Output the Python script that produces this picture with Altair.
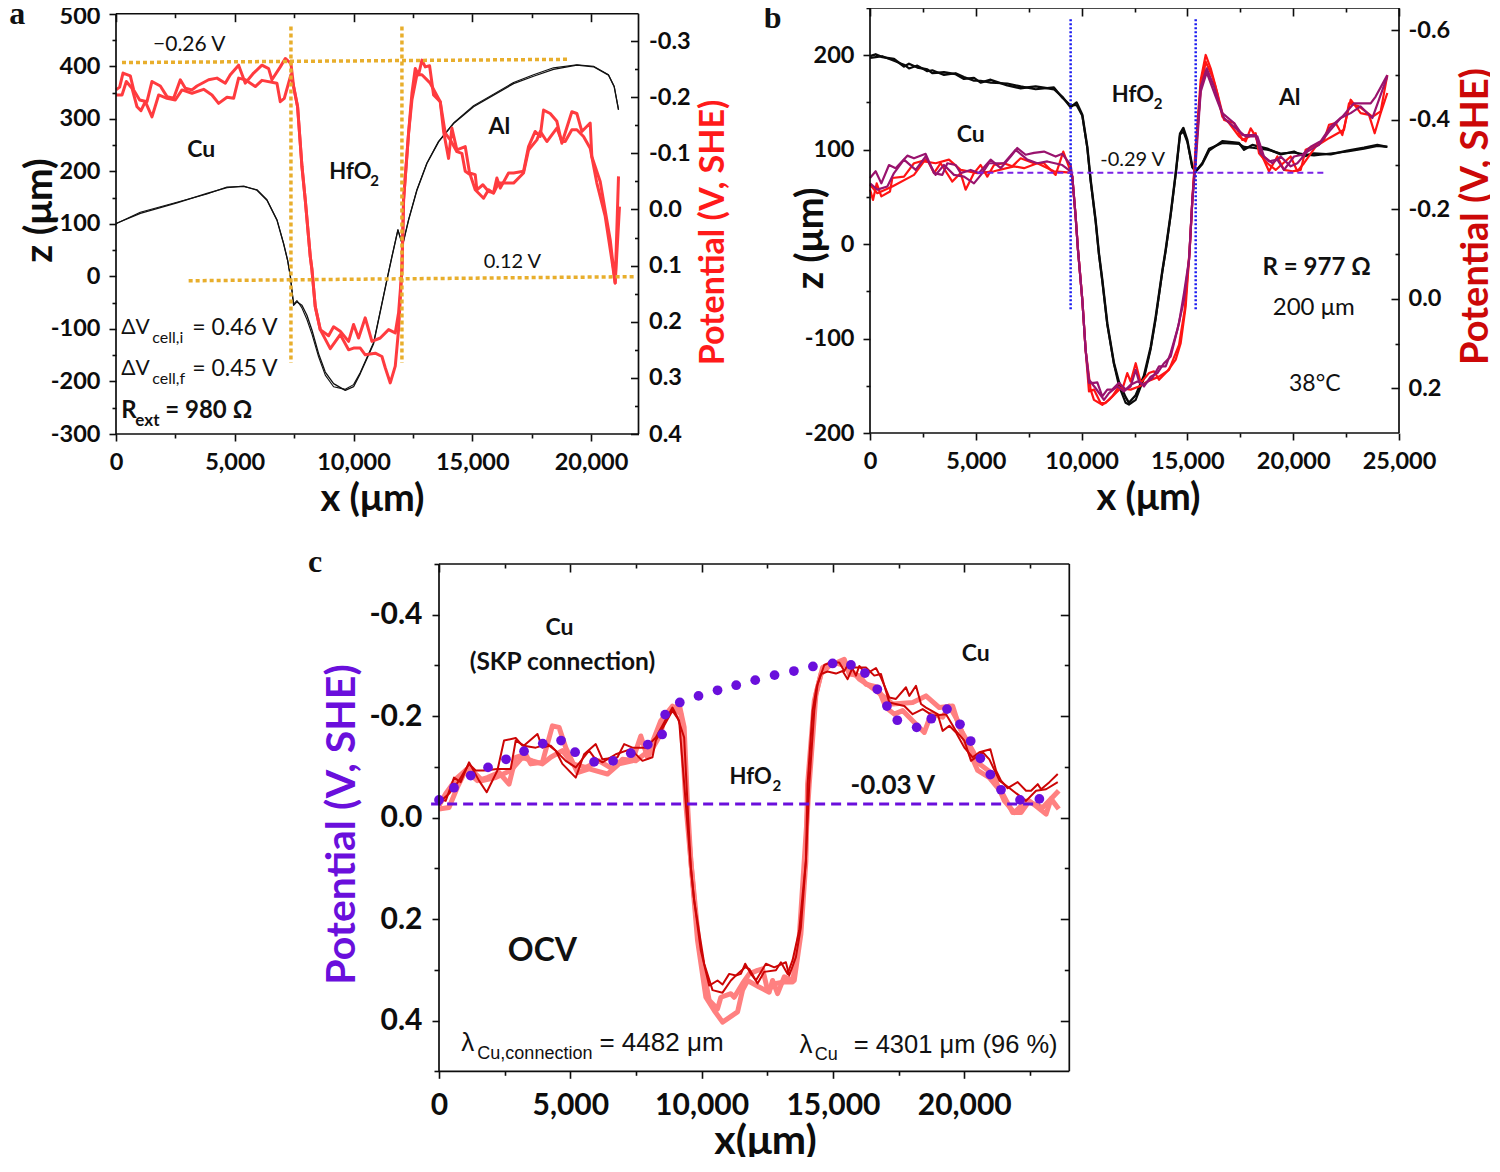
import altair as alt
import pandas as pd

# ---------- panel a ----------
A_BLACK1_X = [0,1024,2567,3830,4672,5374,5935,6356,6777,7057,7226,7338,7478,7618,7829,8039,8250,8530,8811,9162,9653,10003,10285,10846,11407,11618,11870,12067,12319,12670,13091,13582,14213,15055,15897,16739,17581,18422,19405,20106,20737,20976,21158]
A_BLACK1_Z = [100.7,120,140,158,169,172,164,145,107,62,31,2,-55,-48.5,-55,-74,-102,-147,-182,-204,-217,-210,-185,-128,-7,37,88,59,107,164,215,256,291,323,345,367,381,394,402,399,383,361,317]
A_BLACK2_X = [0,1024,2567,3830,4672,5374,5935,6356,6777,7057,7226,7338,7478,7618,7829,8039,8250,8530,8811,9162,9653,10003,10285,10846,11407,11618,11870,12067,12319,12670,13091,13582,14213,15055,15897,16739,17581,18422,19405,20106,20737,20976,21158]
A_BLACK2_Z = [100,122,141,157,170,171,165,146,108,63,30,0,-53,-46,-60,-82,-110,-153,-188,-210,-215,-206,-183,-126,-6,38,89,60,108,165,216,257,292,325,347,369,384,397,403,400,384,362,318]
A_RED1_X = [0,154,295,603,744,996,1305,1515,1866,2147,2427,2708,2918,3199,3409,3900,4251,4602,4812,5163,5444,5794,6145,6426,6566,6917,7127,7366,7478,7646,7829,7969,8180,8250,8390,8600,8951,9162,9442,9793,10003,10214,10494,10776,11127,11478,11758,11898,12039,12109,12319,12460,12600,12740,12881,13021,13203,13372,13652,13793,14003,14143,14354,14704,14887,15125,15196,15448,15687,15897,16037,16178,16528,16739,17160,17370,17651,17861,18002,18282,18563,18773,19194,19405,19615,19966,20036,20387,20808,21018,21158]
A_RED1_V = [-0.213,-0.218,-0.243,-0.238,-0.213,-0.195,-0.192,-0.228,-0.220,-0.201,-0.198,-0.231,-0.216,-0.213,-0.220,-0.231,-0.234,-0.225,-0.240,-0.257,-0.225,-0.243,-0.257,-0.251,-0.231,-0.254,-0.269,-0.260,-0.219,-0.183,-0.077,-0.017,0.084,0.107,0.173,0.214,0.225,0.209,0.217,0.235,0.205,0.229,0.193,0.235,0.229,0.214,0.220,0.184,0.107,-0.017,-0.136,-0.207,-0.251,-0.240,-0.266,-0.254,-0.256,-0.204,-0.192,-0.139,-0.091,-0.145,-0.106,-0.112,-0.065,-0.062,-0.035,-0.044,-0.032,-0.030,-0.056,-0.038,-0.065,-0.065,-0.068,-0.112,-0.139,-0.130,-0.177,-0.171,-0.157,-0.118,-0.174,-0.171,-0.139,-0.154,-0.094,-0.050,0.054,0.131,-0.059]
A_RED2_X = [0,253,435,673,884,1052,1235,1515,1796,2147,2497,2778,3199,3690,4041,4321,4672,4953,5163,5444,5865,6145,6777,6917,7085,7366,7478,7646,7829,7969,8180,8250,8390,8600,9022,9442,9793,10003,10285,10495,10916,11197,11337,11548,11758,11898,12039,12109,12319,12460,12670,12881,13231,13652,13863,14073,14354,14564,14704,14915,15125,15476,15687,15897,16107,16528,16739,17160,17370,17721,17861,18142,18563,18773,18913,19194,19405,19685,19966,20246,20597,20878,21018,21200]
A_RED2_V = [-0.204,-0.204,-0.228,-0.216,-0.183,-0.176,-0.192,-0.165,-0.204,-0.198,-0.195,-0.213,-0.207,-0.214,-0.204,-0.189,-0.200,-0.198,-0.234,-0.231,-0.219,-0.230,-0.225,-0.192,-0.198,-0.240,-0.219,-0.183,-0.077,-0.017,0.084,0.107,0.173,0.214,0.248,0.223,0.250,0.247,0.247,0.259,0.256,0.262,0.282,0.309,0.279,0.214,0.107,-0.017,-0.136,-0.195,-0.240,-0.240,-0.225,-0.192,-0.136,-0.124,-0.103,-0.100,-0.068,-0.062,-0.035,-0.020,-0.035,-0.029,-0.047,-0.047,-0.047,-0.065,-0.106,-0.124,-0.139,-0.121,-0.145,-0.121,-0.121,-0.142,-0.142,-0.130,-0.109,-0.047,0.012,0.090,0.131,-0.005]
A_GUIDE_H1_X = [253,19096]
A_GUIDE_H1_V = [-0.2616,-0.2675]
A_GUIDE_H2_X = [3059,21902]
A_GUIDE_H2_V = [0.127,0.1197]
A_GUIDE_V1_X = [7366,7366]
A_GUIDE_V2_X = [12039,12039]
A_GUIDE_V_V = [-0.326,0.2734]

# ---------- panel b ----------
B_BLACK1_X = [0,268,583,1134,1607,1843,2237,2709,2945,3497,4048,4442,4914,5229,5702,6489,7119,7828,8694,9088,9482,9765,10033,10269,10427,10663,10820,10978,11214,11529,11765,12080,12238,12557,12950,13266,13502,13817,13974,14211,14447,14652,14809,14998,15234,15392,15707,16022,16652,17439,17676,18069,18778,19408,20038,20511,20983,21771,22559,23346,23978,24448]
B_BLACK1_Z = [199,201,198,196,188,191,187,185,181,182,180,175,176,171,174,168,165,167,164,156,145,150,137,103,68,25,-10,-38,-84,-126,-146,-162,-168,-160,-139,-109,-77,-28,-6,32,75,117,123,110,82,77,85,99,109,107,100,105,101,95,98,93,96,95,99,102,105,103]
B_BLACK2_Z = [197,198,199,194,190,186,189,183,184,179,181,177,173,173,171,170,167,164,166,155,147,147,136,102,67,24,-11,-39,-85,-127,-150,-168,-170,-165,-142,-111,-79,-29,-7,31,74,116,119,108,81,77,86,101,107,106,103,102,100,96,97,95,94,96,98,101,104,103]
B_PUR1_X = [0,268,536,898,1213,1764,2079,2630,3024,3418,3654,4048,4284,4757,5150,5702,6174,6647,6962,7355,7749,8222,8773,9088,9482,9560,9718,9828,10033,10190,10348,10584,10742,10978,11214,11450,11765,12080,12317,12557,12714,12950,13266,13581,13896,14211,14604,14841,15077,15234,15392,15628,15912,16258,16652,17203,17597,18227,18463,18857,19250,19566,20038,20432,20826,21298,21771,22322,22873,23660,23897,24448]
B_PUR1_V = [-0.270,-0.285,-0.258,-0.299,-0.292,-0.320,-0.314,-0.324,-0.281,-0.277,-0.303,-0.299,-0.281,-0.288,-0.281,-0.311,-0.292,-0.318,-0.337,-0.322,-0.326,-0.329,-0.318,-0.324,-0.299,-0.273,-0.184,-0.11,0.002,0.114,0.188,0.188,0.187,0.218,0.203,0.203,0.188,0.203,0.196,0.159,0.185,0.196,0.174,0.166,0.144,0.129,0.054,-0.013,-0.087,-0.221,-0.318,-0.474,-0.515,-0.474,-0.415,-0.393,-0.366,-0.366,-0.325,-0.307,-0.311,-0.288,-0.318,-0.322,-0.340,-0.352,-0.385,-0.407,-0.437,-0.437,-0.452,-0.500]
B_PUR2_X = [0,347,819,1134,1607,2158,2630,3103,3497,3969,4442,4914,5308,5623,6332,6883,7434,7907,8379,9088,9482,9560,9718,9828,10033,10190,10348,10663,11057,11293,11687,12002,12317,12635,12950,13344,13659,13974,14211,14526,14841,15077,15234,15392,15628,15912,16337,16731,17282,17754,18305,18620,19014,19408,19880,20195,20668,21219,21771,22243,22716,23188,23739,24054,24448]
B_PUR2_V = [-0.258,-0.244,-0.251,-0.281,-0.311,-0.288,-0.318,-0.277,-0.299,-0.277,-0.273,-0.258,-0.281,-0.303,-0.303,-0.333,-0.311,-0.303,-0.307,-0.299,-0.285,-0.273,-0.184,-0.11,0.002,0.114,0.181,0.200,0.226,0.211,0.196,0.207,0.192,0.185,0.192,0.177,0.151,0.151,0.121,0.069,0.002,-0.087,-0.221,-0.303,-0.463,-0.506,-0.452,-0.404,-0.381,-0.363,-0.363,-0.318,-0.303,-0.318,-0.296,-0.303,-0.329,-0.344,-0.378,-0.404,-0.415,-0.430,-0.404,-0.445,-0.497]
B_RED1_X = [0,142,315,536,945,1055,1607,2079,2709,3024,3339,3890,4284,4520,4914,5229,5544,5859,6332,6725,7119,7749,8222,8773,9135,9482,9560,9718,9828,10033,10190,10348,10584,10899,11135,11450,11765,11923,12159,12317,12557,12793,13187,13423,13659,14053,14447,14683,14919,15108,15234,15392,15628,15864,16100,16337,16652,16967,17439,17754,17990,18227,18542,18857,19250,19566,19959,20353,20589,20904,21456,21692,22007,22322,22716,23188,23582,23850,24133,24448]
B_RED1_V = [-0.244,-0.221,-0.258,-0.229,-0.240,-0.270,-0.273,-0.303,-0.311,-0.281,-0.303,-0.262,-0.281,-0.244,-0.281,-0.299,-0.273,-0.299,-0.303,-0.296,-0.314,-0.303,-0.303,-0.277,-0.329,-0.285,-0.273,-0.184,-0.11,0.002,0.114,0.207,0.203,0.233,0.233,0.218,0.196,0.203,0.166,0.185,0.144,0.188,0.166,0.162,0.181,0.162,0.136,0.099,0.017,-0.11,-0.221,-0.340,-0.489,-0.545,-0.515,-0.474,-0.407,-0.393,-0.363,-0.352,-0.381,-0.363,-0.318,-0.285,-0.318,-0.288,-0.285,-0.288,-0.333,-0.340,-0.355,-0.389,-0.393,-0.366,-0.445,-0.415,-0.411,-0.370,-0.415,-0.460]
B_RED2_X = [0,347,1055,2079,2552,3103,3733,4284,5072,5859,6804,7277,7907,8694,9482,9560,9718,9828,10033,10190,10427,10584,10978,11293,11608,11844,12317,12714,13108,13659,14132,14604,14872,15108,15234,15392,15628,15864,16179,16416,16731,17203,17597,18227,18384,18778,19172,19880,20195,20511,21062,21692,22401,22637,23109,23739,24133,24448]
B_RED2_V = [-0.255,-0.236,-0.251,-0.277,-0.307,-0.303,-0.311,-0.288,-0.281,-0.285,-0.296,-0.292,-0.303,-0.285,-0.282,-0.273,-0.184,-0.11,0.002,0.114,0.203,0.226,0.237,0.226,0.211,0.200,0.203,0.196,0.185,0.174,0.159,0.103,0.025,-0.11,-0.221,-0.326,-0.467,-0.530,-0.497,-0.460,-0.400,-0.393,-0.355,-0.370,-0.325,-0.303,-0.288,-0.318,-0.285,-0.303,-0.340,-0.359,-0.378,-0.437,-0.430,-0.407,-0.419,-0.500]
B_GUIDE_V1_X = [9482,9482]
B_GUIDE_V2_X = [15392,15392]
B_GUIDE_V_V = [-0.625,0.0246]
B_GUIDE_H_X = [5072,21487]
B_GUIDE_H_V = [-0.282,-0.282]

# ---------- panel c ----------
C_DOTS_X = [0,572,1207,1867,2553,3239,3950,4648,5182,5906,6629,7303,7950,8496,8611,9169,9882,10606,11317,12041,12777,13514,14238,14987,15686,16219,16689,17057,17451,18187,18746,19343,19838,20245,20613,20994,21400,22124,22861]
C_DOTS_V = [-0.035,-0.059,-0.083,-0.099,-0.115,-0.131,-0.146,-0.152,-0.129,-0.110,-0.112,-0.127,-0.144,-0.164,-0.203,-0.227,-0.240,-0.251,-0.261,-0.271,-0.281,-0.289,-0.298,-0.304,-0.301,-0.285,-0.253,-0.220,-0.192,-0.178,-0.195,-0.214,-0.184,-0.151,-0.117,-0.085,-0.055,-0.035,-0.037]
C_DARK1_X = [0,254,572,826,1143,1524,1816,2223,2477,2921,3175,3683,4128,4445,4699,5207,5525,5969,6223,6795,7049,7366,7874,8255,8890,9081,9335,9462,9589,9716,9970,10288,10606,10796,11050,11304,11495,11660,11876,12066,12447,12765,13209,13336,13590,13780,13971,14098,14289,14416,14670,14924,15241,15432,15622,15876,16003,16257,16638,16829,17146,17400,17781,17908,18162,18353,18543,18988,19178,19432,19686,20004,20321,20575,20994,21210,21400,21655,22035,22353,22544,22798,22925,23242,23560]
C_DARK1_V = [-0.037,-0.033,-0.079,-0.070,-0.109,-0.073,-0.050,-0.093,-0.152,-0.157,-0.142,-0.138,-0.145,-0.132,-0.106,-0.079,-0.125,-0.145,-0.115,-0.119,-0.145,-0.138,-0.138,-0.158,-0.217,-0.198,-0.158,-0.027,0.098,0.163,0.262,0.331,0.321,0.329,0.308,0.311,0.308,0.288,0.308,0.321,0.288,0.295,0.285,0.311,0.275,0.216,0.085,-0.066,-0.211,-0.263,-0.301,-0.306,-0.306,-0.289,-0.306,-0.280,-0.299,-0.283,-0.295,-0.276,-0.237,-0.234,-0.257,-0.240,-0.260,-0.224,-0.217,-0.204,-0.171,-0.181,-0.168,-0.138,-0.119,-0.129,-0.135,-0.093,-0.073,-0.058,-0.070,-0.053,-0.053,-0.066,-0.056,-0.070,-0.086]
C_DARK2_X = [0,381,762,1143,1397,1715,2223,2731,2921,3239,3747,3937,4255,4826,5207,5715,5906,6223,6731,7303,7747,8128,8255,8890,9144,9398,9589,9716,10098,10415,10796,11114,11368,11660,11812,12130,12384,12828,13019,13273,13463,13717,13971,14035,14225,14377,14543,14797,15114,15368,15559,15749,16257,16575,16829,17146,17718,18035,18416,18797,19305,19686,20004,20258,20702,20956,21337,21655,22353,22734,23115,23560]
C_DARK2_V = [-0.030,-0.047,-0.073,-0.106,-0.093,-0.093,-0.096,-0.096,-0.152,-0.142,-0.165,-0.138,-0.142,-0.112,-0.099,-0.132,-0.119,-0.109,-0.125,-0.135,-0.112,-0.119,-0.152,-0.211,-0.191,-0.027,0.098,0.163,0.288,0.340,0.345,0.321,0.308,0.295,0.298,0.327,0.304,0.301,0.285,0.308,0.281,0.222,0.085,-0.066,-0.211,-0.257,-0.283,-0.288,-0.284,-0.289,-0.273,-0.296,-0.296,-0.280,-0.283,-0.227,-0.220,-0.204,-0.214,-0.201,-0.204,-0.171,-0.152,-0.112,-0.129,-0.115,-0.073,-0.061,-0.033,-0.053,-0.056,-0.070]
C_PINK1_X = [0,381,699,1016,1461,1842,2286,2667,2921,3302,3493,3937,4318,4572,4826,5271,5715,6414,6858,7366,7684,7938,8446,8573,9144,9335,9462,9589,9844,10161,10479,10796,11368,11558,11749,12193,12574,12701,12892,13146,13527,13780,13971,14035,14289,14543,14860,15432,15622,16003,16257,16702,17019,17337,17654,18035,18480,18734,19178,19432,19750,20131,20512,20956,21464,21845,22162,22480,23115,23306,23598]
C_PINK1_V = [-0.017,-0.020,-0.060,-0.093,-0.073,-0.079,-0.089,-0.066,-0.119,-0.125,-0.106,-0.109,-0.181,-0.178,-0.138,-0.089,-0.096,-0.086,-0.106,-0.112,-0.161,-0.119,-0.165,-0.198,-0.224,-0.178,-0.027,0.085,0.242,0.354,0.380,0.403,0.383,0.340,0.321,0.334,0.344,0.321,0.347,0.314,0.321,0.229,0.085,-0.066,-0.230,-0.283,-0.299,-0.312,-0.283,-0.280,-0.263,-0.257,-0.217,-0.204,-0.211,-0.191,-0.168,-0.204,-0.198,-0.220,-0.191,-0.138,-0.093,-0.079,-0.047,-0.010,-0.010,-0.033,-0.007,-0.037,-0.017]
C_PINK2_X = [0,254,699,1143,1651,2159,2731,3175,3556,3937,4255,4699,5080,5588,6096,6604,6985,7493,8001,8446,8890,9208,9398,9589,9907,10288,10606,10733,11114,11241,11558,11812,12130,12320,12511,12828,13146,13463,13717,13908,14098,14352,14606,14987,15559,16003,16384,16829,17273,18035,18543,19051,19559,19813,20321,20575,21083,21528,21909,22353,22988,23598]
C_PINK2_V = [-0.024,-0.047,-0.079,-0.099,-0.073,-0.079,-0.093,-0.119,-0.112,-0.106,-0.119,-0.132,-0.106,-0.099,-0.112,-0.096,-0.115,-0.112,-0.132,-0.191,-0.220,-0.204,-0.027,0.085,0.255,0.360,0.377,0.354,0.347,0.354,0.327,0.308,0.301,0.298,0.340,0.327,0.324,0.324,0.235,0.085,-0.066,-0.243,-0.296,-0.306,-0.299,-0.273,-0.260,-0.243,-0.224,-0.227,-0.240,-0.217,-0.220,-0.178,-0.132,-0.106,-0.086,-0.033,-0.010,-0.033,-0.020,-0.053]
C_GUIDE_X = [-300,22861]
C_GUIDE_V = [-0.027,-0.027]

FONT = "Lato"
INK = "#0d0d0d"


def line(xs, ys, xs_scale, ys_scale, color, width, dash=None, cap="butt"):
    d = pd.DataFrame({"x": xs, "y": ys, "i": range(len(xs))})
    kw = dict(color=color, strokeWidth=width, strokeCap=cap, strokeJoin="round", clip=False)
    if dash:
        kw["strokeDash"] = dash
    return alt.Chart(d).mark_line(**kw).encode(
        x=alt.X("x:Q", scale=xs_scale, axis=None),
        y=alt.Y("y:Q", scale=ys_scale, axis=None),
        order=alt.Order("i:Q"),
    )


def text(s, x, y, xs_scale, ys_scale, size=22, weight="normal", font=FONT, align="center", color="#111111"):
    d = pd.DataFrame({"x": [x], "y": [y], "t": [s]})
    return alt.Chart(d).mark_text(
        font=font, fontSize=size, fontWeight=weight, align=align, baseline="middle", color=color
    ).encode(
        x=alt.X("x:Q", scale=xs_scale, axis=None),
        y=alt.Y("y:Q", scale=ys_scale, axis=None),
        text="t:N",
    )


def frame(x0, x1, y0, y1, xs_scale, ys_scale):
    d = pd.DataFrame({
        "x": [x0, x0, x0, x1], "x2": [x1, x1, x0, x1],
        "y": [y0, y1, y0, y0], "y2": [y0, y1, y1, y1],
    })
    return alt.Chart(d).mark_rule(color=INK, strokeWidth=1.7).encode(
        x=alt.X("x:Q", scale=xs_scale, axis=None), x2="x2:Q",
        y=alt.Y("y:Q", scale=ys_scale, axis=None), y2="y2:Q",
    )


def carrier(xs_scale, ys_scale, xaxis=None, yaxis=None):
    d = pd.DataFrame({"x": [xs_scale.domain[0]], "y": [ys_scale.domain[0]]})
    return alt.Chart(d).mark_point(opacity=0).encode(
        x=alt.X("x:Q", scale=xs_scale, axis=xaxis, title=None),
        y=alt.Y("y:Q", scale=ys_scale, axis=yaxis, title=None),
    )


def ticks_only(orient, values, size, offset=None):
    kw = dict(orient=orient, values=values, tickSize=size, tickColor=INK, tickWidth=1.6,
              labels=False, domain=False, grid=False)
    if offset is not None:
        kw["offset"] = offset
    return alt.Axis(**kw)


INT_LABEL = "datum.value<0 ? '-'+format(-datum.value,'d') : format(datum.value,'d')"
DEC_LABEL = "datum.value<0 ? '-'+format(-datum.value,'.1f') : format(datum.value,'.1f')"


def label_axis(orient, values, size, expr, tick, pad, **extra):
    return alt.Axis(orient=orient, values=values, labelFont=FONT, labelFontSize=size, labelFontWeight="bold",
                    labelColor=INK, labelExpr=expr, tickSize=tick, tickColor=INK, tickWidth=1.6,
                    labelPadding=pad, labelOverlap=False, labelFlush=False, domain=False, grid=False, **extra)


def x_axis(values, size, pad, **extra):
    return alt.Axis(orient="bottom", values=values, format=",d", labelFont=FONT, labelFontSize=size,
                    labelFontWeight="bold", labelColor=INK, tickSize=7, tickColor=INK, tickWidth=1.6,
                    labelPadding=pad, labelOverlap=False, labelFlush=False, domain=False, grid=False, **extra)


def title_opts(title, size, color, tx, ty, angle):
    return dict(title=title, titleFont=FONT, titleFontSize=size, titleFontWeight="bold", titleColor=color,
                titleX=tx, titleY=ty, titleAngle=angle, titleAlign="center", titleBaseline="middle")


# ---------------- panel a ----------------
ax = alt.Scale(domain=[0, 22000], nice=False, zero=False)
az = alt.Scale(domain=[-300, 510.9], nice=False, zero=False)
av = alt.Scale(domain=[0.4, -0.3589], nice=False, zero=False)
AW, AH = 522.5, 426
a_xmaj = [0, 5000, 10000, 15000, 20000]
a_xmin = [2500, 7500, 12500, 17500]
a_zmaj = [400, 300, 200, 100, 0, -100, -200, -300]
a_zmin = [450, 350, 250, 150, 50, -50, -150, -250]
a_vmaj = [-0.3, -0.2, -0.1, 0.0, 0.1, 0.2, 0.3, 0.4]
a_vmin = [-0.25, -0.15, -0.05, 0.05, 0.15, 0.25, 0.35]
orange = "#E8AE2C"
a_layers = [
    carrier(ax, az, x_axis(a_xmaj, 23.5, 9, **title_opts("x (μm)", 38, INK, 256, 65, 0)),
            label_axis("left", a_zmaj, 23.5, INT_LABEL, 7, 9, **title_opts("z (μm)", 39, INK, -77, 202, 270))),
    carrier(ax, az, ticks_only("bottom", a_xmin, 4),
            label_axis("left", [500], 23.5, INT_LABEL, 7, 9, labelOffset=3)),
    carrier(ax, az, ticks_only("bottom", a_xmaj, 8, -420.3), ticks_only("left", a_zmin, 4)),
    carrier(ax, av, ticks_only("bottom", a_xmin, 4, -420.3),
            alt.Axis(orient="right", values=a_vmaj, labelFont=FONT, labelFontSize=23.5, labelFontWeight="bold",
                     labelColor=INK, labelExpr=DEC_LABEL, tickSize=0, labelPadding=10, labelOverlap=False,
                     labelFlush=False, domain=False, grid=False,
                     **title_opts("Potential (V, SHE)", 34, "#FF1A1A", 75, 224, 270))),
    carrier(ax, av, None, ticks_only("left", a_vmaj, 8, -AW)),
    carrier(ax, av, None, ticks_only("left", a_vmin, 4, -AW)),
    line(A_BLACK1_X, A_BLACK1_Z, ax, az, "#111111", 1.3),
    line(A_BLACK2_X, A_BLACK2_Z, ax, az, "#111111", 1.1),
    line(A_RED1_X, A_RED1_V, ax, av, "#FF3B3F", 3),
    line(A_RED2_X, A_RED2_V, ax, av, "#FF3B3F", 3),
    line(A_GUIDE_H1_X, A_GUIDE_H1_V, ax, av, orange, 3.5, [4, 3]),
    line(A_GUIDE_H2_X, A_GUIDE_H2_V, ax, av, orange, 3.5, [4, 3]),
    line(A_GUIDE_V1_X, A_GUIDE_V_V, ax, av, orange, 3.5, [4, 3]),
    line(A_GUIDE_V2_X, A_GUIDE_V_V, ax, av, orange, 3.5, [4, 3]),
    frame(0, 22000, -300, 500, ax, az),
    text("a", -4155, 500, ax, az, 32, "bold", "Liberation Serif"),
    text("−0.26 V", 3086, 440, ax, az, 21),
    text("Cu", 3591, 240, ax, az, 23, "bold"),
    text("HfO", 8980, 198.5, ax, az, 22, "bold", align="left"),
    text("2", 10700, 181, ax, az, 15, "bold", align="left"),
    text("Al", 16140, 284, ax, az, 23, "bold"),
    text("0.12 V", 16690, 27, ax, az, 20),
    text("ΔV", 223, -98.7, ax, az, 21, align="left"),
    text("cell,i", 1528, -117.5, ax, az, 16, align="left"),
    text("= 0.46 V", 3212, -98.7, ax, az, 23, align="left"),
    text("ΔV", 223, -177, ax, az, 21, align="left"),
    text("cell,f", 1528, -196, ax, az, 16, align="left"),
    text("= 0.45 V", 3212, -177, ax, az, 23, align="left"),
    text("R", 223, -257, ax, az, 24, "bold", align="left"),
    text("ext", 813, -276, ax, az, 17, "bold", align="left"),
    text("= 980 Ω", 2075, -257, ax, az, 24, "bold", align="left"),
]
panel_a = alt.layer(*a_layers).resolve_scale(y="independent").resolve_axis(x="independent", y="independent").properties(
    width=AW, height=AH, view=alt.ViewBackground(stroke="transparent"))

# ---------------- panel b ----------------
bx = alt.Scale(domain=[0, 25000], nice=False, zero=False)
bz = alt.Scale(domain=[-200, 250], nice=False, zero=False)
bv = alt.Scale(domain=[0.3, -0.65], nice=False, zero=False)
BW, BH = 529, 425
b_xmaj = [0, 5000, 10000, 15000, 20000, 25000]
b_xmin = [2500, 7500, 12500, 17500, 22500]
b_zmaj = [200, 100, 0, -100, -200]
b_zmin = [250, 150, 50, -50, -150]
b_vmaj = [-0.6, -0.4, -0.2, 0.0, 0.2]
b_vmin = [-0.5, -0.3, -0.1, 0.1]
purple = "#99136E"
red_b = "#FF1414"
violet = "#7A22E6"
b_layers = [
    carrier(bx, bz, x_axis(b_xmaj, 23.5, 9, **title_opts("x (μm)", 38, INK, 278, 65, 0)),
            label_axis("left", b_zmaj, 23.5, INT_LABEL, 7, 9, **title_opts("z (μm)", 38, INK, -59, 230, 270))),
    carrier(bx, bz, ticks_only("bottom", b_xmin, 4), ticks_only("left", b_zmin, 4)),
    carrier(bx, bv, ticks_only("bottom", b_xmaj, 8, -BH),
            alt.Axis(orient="right", values=b_vmaj, labelFont=FONT, labelFontSize=23.5, labelFontWeight="bold",
                     labelColor=INK, labelExpr=DEC_LABEL, tickSize=0, labelPadding=9, labelOverlap=False,
                     labelFlush=False, domain=False, grid=False,
                     **title_opts("Potential (V, SHE)", 38, "#CC0808", 77, 208, 270))),
    carrier(bx, bv, ticks_only("bottom", b_xmin, 4, -BH), ticks_only("left", b_vmaj, 8, -BW)),
    carrier(bx, bv, None, ticks_only("left", b_vmin, 4, -BW)),
    line(B_BLACK1_X, B_BLACK1_Z, bx, bz, "#0a0a0a", 2.4),
    line(B_BLACK1_X, B_BLACK2_Z, bx, bz, "#0a0a0a", 2.1),
    line(B_RED1_X, B_RED1_V, bx, bv, red_b, 2.2),
    line(B_RED2_X, B_RED2_V, bx, bv, red_b, 2.2),
    line(B_PUR1_X, B_PUR1_V, bx, bv, purple, 2.2),
    line(B_PUR2_X, B_PUR2_V, bx, bv, purple, 2.2),
    line(B_GUIDE_V1_X, B_GUIDE_V_V, bx, bv, "#1A1AF0", 2.5, [2, 2]),
    line(B_GUIDE_V2_X, B_GUIDE_V_V, bx, bv, "#1A1AF0", 2.5, [2, 2]),
    line(B_GUIDE_H_X, B_GUIDE_H_V, bx, bv, violet, 2, [6, 4]),
    frame(0, 25000, -200, 250, bx, bz),
    text("b", -4598, 239, bx, bz, 32, "bold", "Liberation Serif"),
    text("Cu", 4759, 116, bx, bz, 23, "bold"),
    text("HfO", 11427, 157.7, bx, bz, 22, "bold", align="left"),
    text("2", 13410, 148, bx, bz, 15, "bold", align="left"),
    text("Al", 19835, 154.5, bx, bz, 23, "bold"),
    text("-0.29 V", 12415, 89, bx, bz, 20),
    text("R = 977 Ω", 21107, -25.4, bx, bz, 24, "bold"),
    text("200 μm", 20970, -67.7, bx, bz, 24),
    text("38°C", 21020, -148, bx, bz, 23),
]
panel_b = alt.layer(*b_layers).resolve_scale(y="independent").resolve_axis(x="independent", y="independent").properties(
    width=BW, height=BH, view=alt.ViewBackground(stroke="transparent"))

# ---------------- panel c ----------------
cx = alt.Scale(domain=[0, 24000], nice=False, zero=False)
cv = alt.Scale(domain=[0.5, -0.5], nice=False, zero=False)
CW, CH = 630.3, 507.3
c_xmaj = [0, 5000, 10000, 15000, 20000]
c_xmin = [2500, 7500, 12500, 17500, 22500]
c_vmaj = [-0.4, -0.2, 0.0, 0.2, 0.4]
c_vmin = [-0.5, -0.3, -0.1, 0.1, 0.3, 0.5]
c_purple = "#6A0FDC"
c_layers = [
    carrier(cx, cv, x_axis(c_xmaj, 30, 12, **title_opts("x(μm)", 41, INK, 326, 70, 0)),
            label_axis("left", c_vmaj, 30, DEC_LABEL, 7, 10,
                       **title_opts("Potential (V, SHE)", 41, c_purple, -97, 260, 270))),
    carrier(cx, cv, ticks_only("bottom", c_xmin, 4), ticks_only("left", c_vmin, 5)),
    carrier(cx, cv, ticks_only("bottom", c_xmaj, 8, -CH), ticks_only("left", c_vmaj, 9, -CW)),
    carrier(cx, cv, ticks_only("bottom", c_xmin, 4, -CH), ticks_only("left", c_vmin[1:-1], 5, -CW)),
    line(C_PINK1_X, C_PINK1_V, cx, cv, "#FF8080", 5),
    line(C_PINK2_X, C_PINK2_V, cx, cv, "#FF8080", 5),
    line(C_DARK1_X, C_DARK1_V, cx, cv, "#CC0505", 2),
    line(C_DARK2_X, C_DARK2_V, cx, cv, "#CC0505", 2),
    line(C_GUIDE_X, C_GUIDE_V, cx, cv, c_purple, 3, [10, 6]),
    alt.Chart(pd.DataFrame({"x": C_DOTS_X, "y": C_DOTS_V})).mark_circle(size=95, color=c_purple, opacity=1).encode(
        x=alt.X("x:Q", scale=cx, axis=None), y=alt.Y("y:Q", scale=cv, axis=None)),
    frame(0, 24000, -0.5, 0.5, cx, cv),
    text("c", -4714, -0.504, cx, cv, 32, "bold", "Liberation Serif"),
    text("Cu", 4585, -0.374, cx, cv, 23, "bold"),
    text("(SKP connection)", 4700, -0.305, cx, cv, 24.5, "bold"),
    text("Cu", 20440, -0.323, cx, cv, 23, "bold"),
    text("HfO", 11063, -0.081, cx, cv, 22, "bold", align="left"),
    text("2", 12700, -0.063, cx, cv, 15, "bold", align="left"),
    text("-0.03 V", 17280, -0.063, cx, cv, 26, "bold"),
    text("OCV", 3937, 0.262, cx, cv, 32, "bold"),
    text("λ", 850, 0.445, cx, cv, 26, font="Liberation Sans", align="left"),
    text("Cu,connection", 1460, 0.465, cx, cv, 18, font="Liberation Sans", align="left"),
    text("= 4482 μm", 6110, 0.445, cx, cv, 26, font="Liberation Sans", align="left"),
    text("λ", 13730, 0.449, cx, cv, 26, font="Liberation Sans", align="left"),
    text("Cu", 14310, 0.467, cx, cv, 18, font="Liberation Sans", align="left"),
    text("= 4301 μm (96 %)", 15790, 0.449, cx, cv, 25.5, font="Liberation Sans", align="left"),
]
panel_c = alt.layer(*c_layers).resolve_scale(y="independent").resolve_axis(x="independent", y="independent").properties(
    width=CW, height=CH, view=alt.ViewBackground(stroke="transparent"))

spacer = alt.Chart(pd.DataFrame({"x": [0]})).mark_point(opacity=0).encode(
    x=alt.value(0), y=alt.value(0)
).properties(width=190.5, height=1, view=alt.ViewBackground(stroke="transparent"))

top = alt.hconcat(panel_a, panel_b, spacing=32)
bottom = alt.hconcat(spacer, panel_c, spacing=0)
chart = alt.vconcat(top, bottom, spacing=26).properties(
    padding={"top": -11, "left": 0, "right": -6, "bottom": -5}
).configure_axis(grid=False)

chart.save("out.html", embed_options={"renderer": "svg", "actions": False})
